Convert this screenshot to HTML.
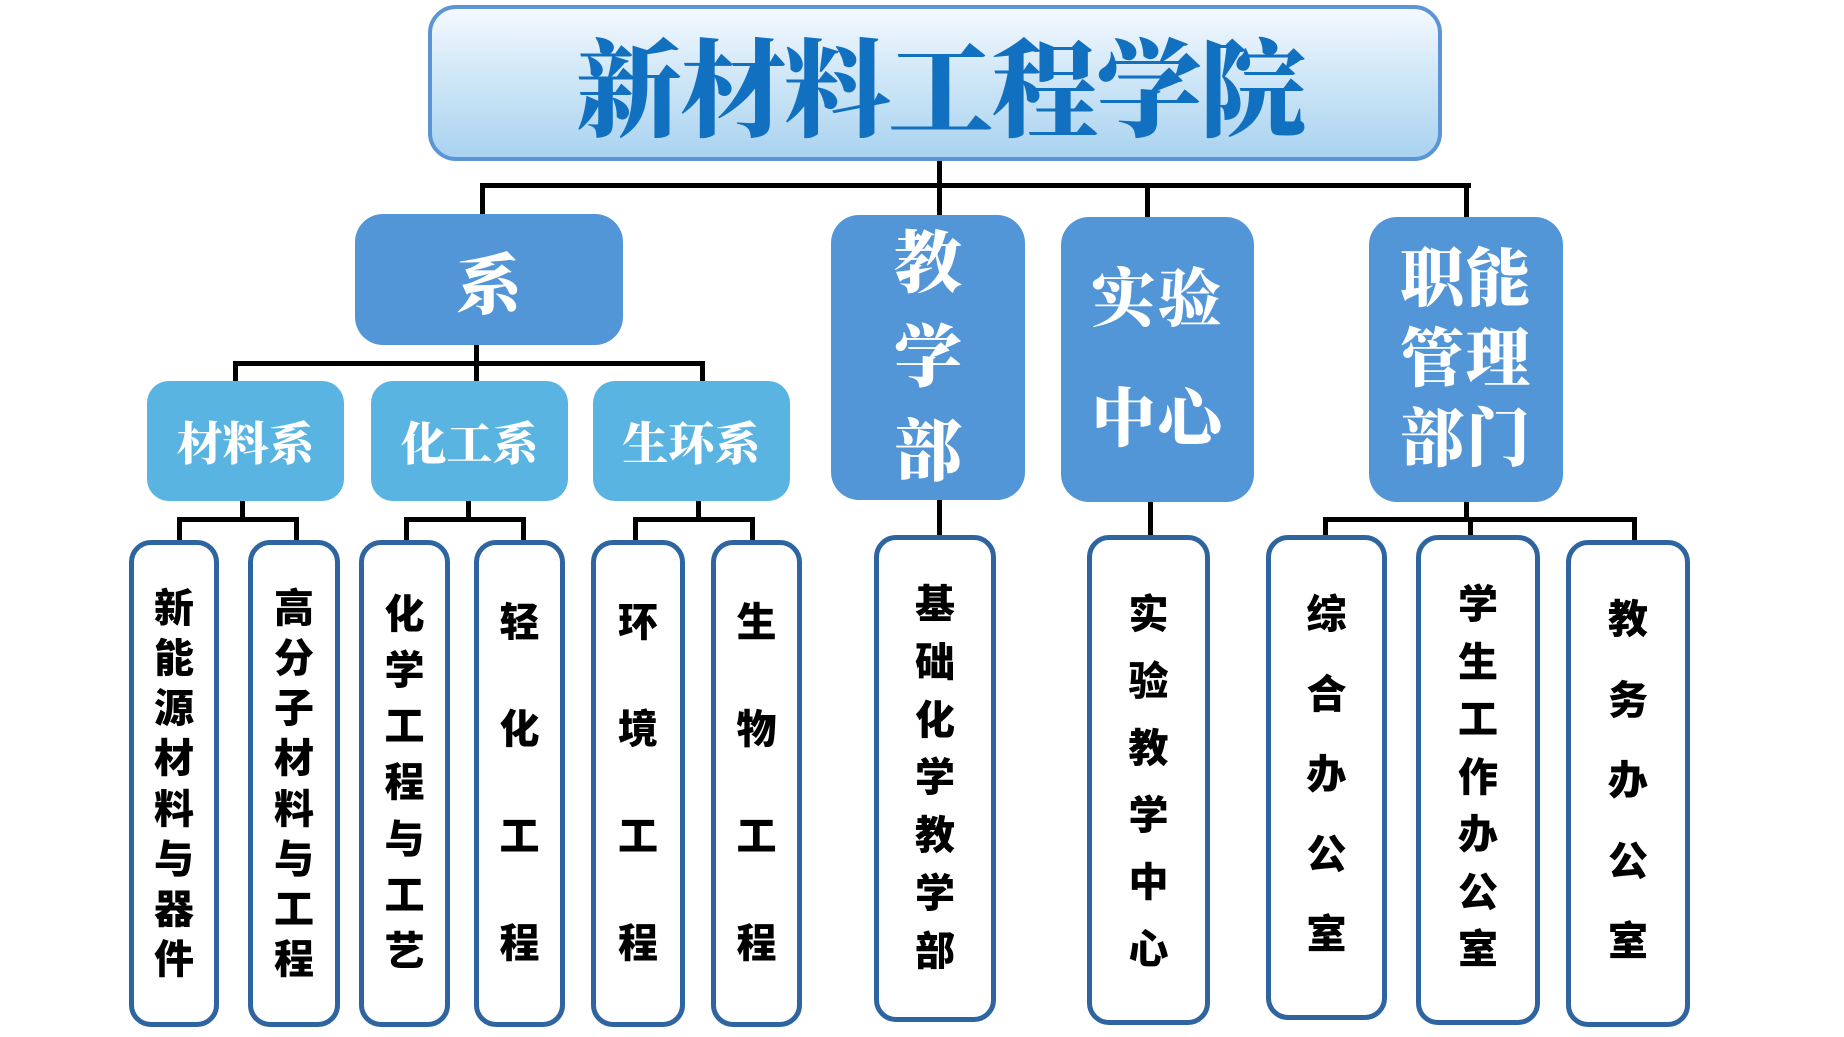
<!DOCTYPE html>
<html><head><meta charset="utf-8"><style>
body{margin:0;width:1844px;height:1037px;background:#fff;position:relative;overflow:hidden}
.a{position:absolute;box-sizing:border-box}
.ln{position:absolute;background:#000}
.t{border:4px solid #5b95d5;border-radius:28px;background:linear-gradient(#f4f9fe,#d4e9f8 40%,#a9d3f0);display:flex;align-items:center;justify-content:center;font-family:"Liberation Serif","Noto Serif CJK SC",serif;font-weight:900;font-size:106px;color:#1170bf;letter-spacing:-2px;padding-left:10px}
.b{background:#5296d8;border-radius:28px;color:#fff;font-family:"Liberation Serif","Noto Serif CJK SC",serif;font-weight:900;display:flex;flex-direction:column;align-items:center;justify-content:center;text-align:center}
.s{background:#5ab4e2;border-radius:22px;color:#fff;font-family:"Liberation Serif","Noto Serif CJK SC",serif;font-weight:900;font-size:46px;display:flex;align-items:center;justify-content:center}
.l{border:5px solid #2e64a0;border-radius:22px;background:#fff;font-family:"Liberation Sans","Noto Sans CJK SC",sans-serif;font-weight:900;font-size:40px;line-height:40px;color:#000;display:flex;flex-direction:column;align-items:center;justify-content:space-between}
</style></head><body>
<div class="a t" style="left:428px;top:5px;width:1014px;height:156px">新材料工程学院</div>
<div class="ln" style="left:937px;top:161px;width:5px;height:26px"></div>
<div class="ln" style="left:482px;top:183px;width:989px;height:5px"></div>
<div class="ln" style="left:480px;top:183px;width:5px;height:32px"></div>
<div class="ln" style="left:937px;top:183px;width:5px;height:32px"></div>
<div class="ln" style="left:1145px;top:183px;width:5px;height:34px"></div>
<div class="ln" style="left:1464px;top:183px;width:5px;height:34px"></div>
<div class="a b" style="left:355px;top:214px;width:268px;height:131px;font-size:66px">系</div>
<div class="a b" style="left:831px;top:215px;width:194px;height:285px;font-size:68px;line-height:94px">教<br>学<br>部</div>
<div class="a b" style="left:1061px;top:217px;width:193px;height:285px;font-size:64px;line-height:120px;letter-spacing:2px">实验<br>中心</div>
<div class="a b" style="left:1369px;top:217px;width:194px;height:285px;font-size:64px;line-height:80px;letter-spacing:2px">职能<br>管理<br>部门</div>
<div class="ln" style="left:474px;top:345px;width:5px;height:18px"></div>
<div class="ln" style="left:233px;top:361px;width:472px;height:5px"></div>
<div class="ln" style="left:233px;top:361px;width:5px;height:20px"></div>
<div class="ln" style="left:474px;top:361px;width:5px;height:20px"></div>
<div class="ln" style="left:700px;top:361px;width:5px;height:20px"></div>
<div class="a s" style="left:147px;top:381px;width:197px;height:120px">材料系</div>
<div class="a s" style="left:371px;top:381px;width:197px;height:120px">化工系</div>
<div class="a s" style="left:593px;top:381px;width:197px;height:120px">生环系</div>
<div class="ln" style="left:240px;top:501px;width:5px;height:19px"></div>
<div class="ln" style="left:177px;top:517px;width:122px;height:5px"></div>
<div class="ln" style="left:177px;top:517px;width:5px;height:23px"></div>
<div class="ln" style="left:294px;top:517px;width:5px;height:23px"></div>
<div class="ln" style="left:466px;top:501px;width:5px;height:19px"></div>
<div class="ln" style="left:404px;top:517px;width:122px;height:5px"></div>
<div class="ln" style="left:404px;top:517px;width:5px;height:23px"></div>
<div class="ln" style="left:521px;top:517px;width:5px;height:23px"></div>
<div class="ln" style="left:696px;top:501px;width:5px;height:19px"></div>
<div class="ln" style="left:633px;top:517px;width:122px;height:5px"></div>
<div class="ln" style="left:633px;top:517px;width:5px;height:23px"></div>
<div class="ln" style="left:750px;top:517px;width:5px;height:23px"></div>
<div class="ln" style="left:937px;top:500px;width:5px;height:36px"></div>
<div class="ln" style="left:1148px;top:502px;width:5px;height:34px"></div>
<div class="ln" style="left:1464px;top:502px;width:5px;height:18px"></div>
<div class="ln" style="left:1323px;top:517px;width:314px;height:5px"></div>
<div class="ln" style="left:1323px;top:517px;width:5px;height:19px"></div>
<div class="ln" style="left:1468px;top:517px;width:5px;height:19px"></div>
<div class="ln" style="left:1632px;top:517px;width:5px;height:23px"></div>
<div class="a l" style="left:129px;top:540px;width:90px;height:487px;padding:44px 0 42px"><span>新</span><span>能</span><span>源</span><span>材</span><span>料</span><span>与</span><span>器</span><span>件</span></div>
<div class="a l" style="left:248px;top:540px;width:92px;height:487px;padding:44px 0 42px"><span>高</span><span>分</span><span>子</span><span>材</span><span>料</span><span>与</span><span>工</span><span>程</span></div>
<div class="a l" style="left:359px;top:540px;width:91px;height:487px;padding:50px 0 50px"><span>化</span><span>学</span><span>工</span><span>程</span><span>与</span><span>工</span><span>艺</span></div>
<div class="a l" style="left:474px;top:540px;width:91px;height:487px;padding:58px 0 58px"><span>轻</span><span>化</span><span>工</span><span>程</span></div>
<div class="a l" style="left:591px;top:540px;width:94px;height:487px;padding:58px 0 58px"><span>环</span><span>境</span><span>工</span><span>程</span></div>
<div class="a l" style="left:711px;top:540px;width:91px;height:487px;padding:58px 0 58px"><span>生</span><span>物</span><span>工</span><span>程</span></div>
<div class="a l" style="left:874px;top:535px;width:122px;height:487px;padding:45px 0 45px"><span>基</span><span>础</span><span>化</span><span>学</span><span>教</span><span>学</span><span>部</span></div>
<div class="a l" style="left:1087px;top:535px;width:123px;height:490px;padding:55px 0 50px"><span>实</span><span>验</span><span>教</span><span>学</span><span>中</span><span>心</span></div>
<div class="a l" style="left:1266px;top:535px;width:121px;height:485px;padding:55px 0 60px"><span>综</span><span>合</span><span>办</span><span>公</span><span>室</span></div>
<div class="a l" style="left:1416px;top:535px;width:124px;height:490px;padding:45px 0 50px"><span>学</span><span>生</span><span>工</span><span>作</span><span>办</span><span>公</span><span>室</span></div>
<div class="a l" style="left:1566px;top:540px;width:124px;height:487px;padding:55px 0 60px"><span>教</span><span>务</span><span>办</span><span>公</span><span>室</span></div>
</body></html>
